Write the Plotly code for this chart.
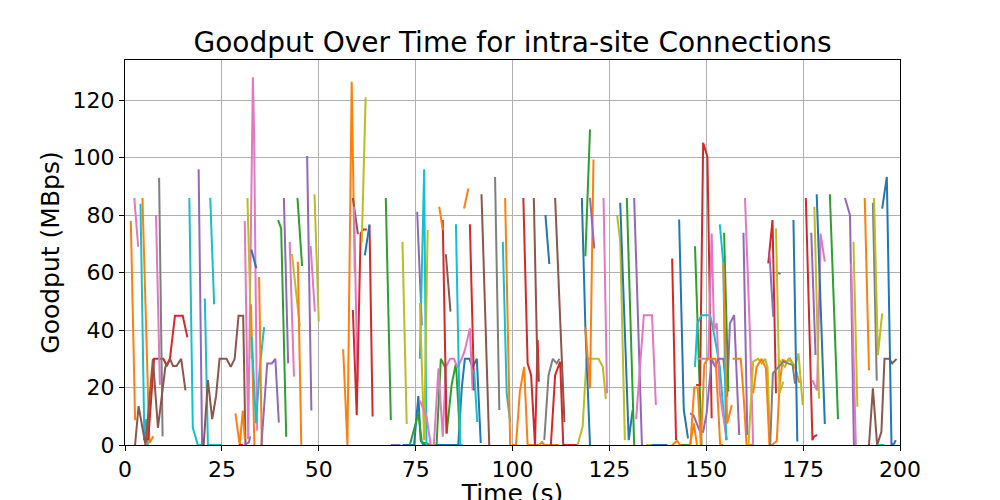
import plotly.graph_objects as go

# ---- data: one entry per connection (time in s, goodput in MBps) ----
conn_times = [
    [1.5, 2.6, 2.9],
    [2.4, 3.4],
    [4.0, 5.0, 5.5, 5.9],
    [4.5, 6.3, 7.3],
    [4.7, 6.0, 7.5, 9.9, 10.8, 11.6, 12.9, 14.9, 16.1],
    [8.0, 9.0],
    [8.8, 9.7],
    [2.6, 3.5, 4.5, 5.3, 7.2, 8.5, 10.4, 11.6, 12.4, 13.3, 14.5, 15.6],
    [16.6, 17.5, 18.8, 19.9],
    [19.0, 19.9],
    [20.6, 21.4, 25.0],
    [22.0, 23.0],
    [20.3, 21.4, 22.5, 23.5, 24.4, 26.2, 27.3, 28.3, 29.3, 30.5, 31.1],
    [28.5, 29.6, 30.4, 30.9],
    [29.4, 30.5],
    [30.9, 32.0, 32.3],
    [30.9, 31.8, 33.0, 33.3, 34.1],
    [31.6, 32.7],
    [32.6, 33.9],
    [32.5, 33.4],
    [32.7, 33.8, 34.8, 35.9],
    [34.6, 35.3],
    [35.2, 36.7, 37.9, 38.8, 39.7],
    [39.5, 40.3, 41.6],
    [41.0, 42.1],
    [42.5, 43.6],
    [43.1, 45.1],
    [44.5, 45.7],
    [44.6, 45.5],
    [47.0, 48.1],
    [47.9, 49.0],
    [48.9, 50.0],
    [56.3, 57.4, 58.5, 59.3],
    [58.8, 60.1],
    [59.1, 60.0],
    [58.8, 59.8, 60.8, 61.5, 62.4],
    [63.1, 63.9],
    [61.9, 63.1],
    [61.1, 62.1],
    [67.3, 68.6],
    [71.6, 72.7],
    [68.6, 71.1],
    [71.6, 74.6, 75.7, 76.3, 77.0, 86.0, 86.9, 87.7, 88.9, 89.7, 90.8, 91.8],
    [73.5, 75.7, 76.6, 79.0, 80.4, 81.5, 82.6, 83.0, 84.3, 85.4, 86.5],
    [75.4, 76.6],
    [76.1, 77.2, 77.8],
    [76.1, 77.2, 78.1],
    [76.1, 77.8, 78.9, 79.7, 80.9, 82.0, 82.8, 83.9, 84.9, 85.8, 86.9, 87.7, 89.0, 89.7],
    [82.0, 83.0],
    [81.1, 82.0],
    [82.8, 84.0],
    [85.4, 86.5, 87.2],
    [87.5, 88.6],
    [89.0, 90.1],
    [90.1, 90.9],
    [92.0, 94.0],
    [95.5, 96.6],
    [97.5, 98.5, 99.4],
    [98.1, 99.4],
    [100.0, 100.9, 101.9, 103.0, 103.9, 106.9, 107.6, 108.2, 112.0],
    [102.8, 103.9, 104.8, 105.8, 106.5, 106.8],
    [105.5, 106.5],
    [108.5, 109.5],
    [108.2, 109.3, 110.4, 111.4, 112.1],
    [111.0, 113.4],
    [109.9, 111.0, 112.3, 113.1, 116.8],
    [116.8, 118.1, 119.1, 122.2, 123.3, 124.1],
    [117.9, 118.8, 120.0],
    [118.8, 120.0, 120.9],
    [118.8, 120.0],
    [120.0, 121.1],
    [123.5, 124.4],
    [127.0, 127.8, 129.0],
    [127.8, 130.0, 131.0],
    [129.5, 131.4],
    [131.4, 133.4],
    [131.9, 133.9, 136.0, 137.0],
    [134.5, 135.8],
    [135.8, 140.0],
    [141.2, 142.5, 143.2, 145.8, 146.8, 147.6],
    [141.2, 142.2],
    [143.0, 144.2, 145.3],
    [143.5, 145.5],
    [147.1, 148.8],
    [147.4, 148.4, 149.2, 150.3, 151.4],
    [147.1, 147.7, 148.8, 151.0, 152.0, 153.5, 154.4, 155.3],
    [147.7, 150.5, 151.4, 152.0, 152.7, 153.5, 155.3],
    [145.8, 146.7, 148.4, 149.2, 150.1, 151.4, 152.3, 153.1, 154.4, 155.4, 156.1, 157.2, 158.5],
    [145.9, 146.9, 147.8, 148.6],
    [148.6, 149.5, 150.3, 151.2, 152.4, 153.6, 154.4],
    [154.6, 155.7],
    [153.5, 154.4, 155.1],
    [154.4, 155.4, 156.6],
    [156.8, 158.9, 159.6, 160.4, 162.0],
    [159.6, 160.6],
    [160.0, 161.3, 162.1],
    [160.9, 162.1, 163.4, 164.3, 165.2, 165.8, 166.5],
    [162.1, 163.0, 164.3, 165.4, 166.3, 166.9, 168.2, 168.9, 169.7, 170.8, 171.6, 172.9, 174.0],
    [166.0, 167.1, 168.0],
    [166.3, 167.3],
    [168.0, 169.2],
    [168.0, 168.9, 169.9],
    [168.6, 170.3, 171.2, 172.9, 173.8, 174.9],
    [166.5, 167.2, 169.9, 172.3, 172.9],
    [172.5, 173.5],
    [175.7, 177.4, 177.8, 178.6],
    [177.1, 178.2],
    [177.4, 178.6, 179.5, 180.6],
    [177.9, 179.1],
    [178.5, 180.6],
    [181.9, 184.0],
    [185.8, 187.1, 188.1],
    [187.4, 188.6],
    [188.0, 189.0],
    [190.9, 192.0],
    [193.0, 194.0],
    [193.3, 194.3, 195.4],
    [192.0, 193.0, 194.1, 195.2, 196.0, 197.2, 198.0, 199.1],
    [195.4, 196.6, 197.8, 198.5, 198.9],
    [194.0, 196.0],
]

conn_goodput = [
    [78, 9, 9],
    [86, 69],
    [84, 2, 9, 0],
    [86, 0.7, 3],
    [2, 2, 30, 30, 27.5, 30, 45, 45, 37.5],
    [80, 21],
    [93, 3],
    [0, 13.5, 6, 0, 30, 6, 27, 30, 27.5, 27.5, 30, 19],
    [86, 6, 0, 0],
    [96, 0],
    [51, 0, 0],
    [86, 49],
    [0, 22.6, 9, 17, 30, 30, 27.2, 30, 45, 45, 0],
    [11, 0, 12, 2],
    [0, 0],
    [0, 1, 3],
    [78, 2, 128, 110, 5],
    [86, 30],
    [68, 61.5],
    [49, 0],
    [37.7, 7.5, 27.2, 41],
    [58.5, 0],
    [0, 28.4, 28.4, 30, 7.8],
    [78.3, 75.4, 2.9],
    [86, 28.4],
    [70.7, 23.8],
    [66.4, 41.2],
    [86, 62.3],
    [63.8, 0],
    [100.6, 12],
    [69.2, 46.4],
    [87.3, 43],
    [33.3, 0, 126.4, 60],
    [86, 73.4],
    [83, 22],
    [47, 10.4, 73.6, 75, 75],
    [76.5, 9.9],
    [66, 76.8],
    [70.4, 121],
    [86, 8.7],
    [70.7, 7.3],
    [0, 0],
    [0, 0, 17, 1.7, 0, 0, 19.7, 30, 30, 27, 30, 0.7],
    [0, 11, 1, 0, 0, 30, 27, 4, 21, 28.4, 1.7],
    [81.2, 41.7],
    [30, 96, 0],
    [49.4, 1.7, 74.8],
    [15.4, 10, 0, 0, 26.7, 2.9, 27.2, 30, 30, 27, 30, 33, 40.6, 19],
    [78.3, 4],
    [83, 74.8],
    [66.4, 46.4],
    [76.8, 0, 0],
    [82.3, 89.3],
    [76.8, 19],
    [26, 8],
    [87.3, 0],
    [93.3, 12.2],
    [70.7, 18, 8],
    [86, 0],
    [0, 0, 18.6, 27.2, 0, 0, 1, 0, 0],
    [86, 28.4, 24.3, 0, 36.5, 22],
    [86, 22.6],
    [80, 63],
    [1.7, 24.3, 30, 28.4, 30],
    [86, 8],
    [0, 24.3, 29, 0, 0],
    [0, 6.4, 30, 30, 27.2, 16],
    [86, 41.2, 0],
    [41, 19.7, 99.4],
    [65.7, 109.8],
    [86, 68.4],
    [86, 18],
    [80, 70.7, 1.7],
    [84.3, 1.7, 12.2],
    [86, 0],
    [86, 0],
    [9, 45.2, 45.2, 13.9],
    [0, 0],
    [0, 0],
    [0, 1.5, 0, 0, 7.5, 0],
    [64.9, 1.7],
    [78.5, 12.2, 2.3],
    [0, 0],
    [69.2, 0],
    [20.9, 20.9, 105.2, 100.3, 9.3],
    [27.2, 42.3, 45.2, 45.2, 38.8, 27.2, 12.2, 1.7],
    [30, 30, 73.6, 40, 42.4, 18, 1.7],
    [11, 10.4, 4.6, 4.6, 11, 30, 27.2, 30, 30, 16.8, 42.3, 45.2, 3.5],
    [0, 20, 20, 0],
    [0, 28, 30, 30, 30, 0, 0],
    [73.9, 18.6],
    [76.8, 63.4, 1.7],
    [63.2, 7.5, 13.9],
    [30, 30, 18, 0, 0],
    [73.9, 3.5],
    [86, 37.7, 0],
    [0, 29, 30, 28.4, 30, 27.2, 0],
    [18, 27.2, 30, 26.7, 0, 0, 1.4, 20.3, 29.6, 29, 30, 27.2, 21.7],
    [63.2, 78.3, 18],
    [66.7, 44.6],
    [60.3, 59.5],
    [75.4, 18, 22],
    [30, 27.2, 30, 27.2, 31.9, 13.9],
    [0, 25, 29, 27.8, 21.4],
    [78.3, 1.2],
    [86, 1.7, 2.9, 3.5],
    [73.9, 31.3],
    [22.6, 19, 73.6, 63.8],
    [82.9, 16.2],
    [87.3, 7.3],
    [87.3, 9],
    [86, 80, 0],
    [63.2, 0],
    [70.7, 13.3],
    [86, 26],
    [84.3, 22.4],
    [86, 31.3, 45.8],
    [0, 19.7, 0, 4.6, 30, 30, 28.4, 30],
    [82.3, 93.3, 0, 0.5, 1.7],
    [0, 0],
]

conn_color = [
    "orange", "pink", "cyan", "orange", "red", "pink", "gray", "brown", "cyan", "purple",
    "cyan", "cyan", "brown", "orange", "red", "purple", "pink", "olive", "blue", "orange",
    "cyan", "orange", "purple", "green", "purple", "pink", "olive", "green", "orange", "purple",
    "pink", "olive", "orange", "brown", "pink", "red", "red", "blue", "olive", "green",
    "olive", "purple", "blue", "green", "purple", "cyan", "olive", "pink", "red", "orange",
    "brown", "cyan", "orange", "red", "cyan", "brown", "gray", "cyan", "orange", "orange",
    "red", "brown", "blue", "gray", "brown", "red", "olive", "blue", "orange", "green",
    "purple", "pink", "olive", "blue", "green", "purple", "pink", "olive", "blue", "orange",
    "red", "blue", "green", "green", "red", "cyan", "pink", "purple", "orange", "orange",
    "green", "cyan", "orange", "orange", "purple", "pink", "olive", "orange", "red", "purple",
    "gray", "olive", "olive", "gray", "blue", "red", "purple", "pink", "olive", "blue",
    "green", "purple", "pink", "olive", "orange", "gray", "olive", "brown", "blue", "cyan",
]

palette = {
    "blue": "#1f77b4", "orange": "#ff7f0e", "green": "#2ca02c", "red": "#d62728",
    "purple": "#9467bd", "brown": "#8c564b", "pink": "#e377c2", "gray": "#7f7f7f",
    "olive": "#bcbd22", "cyan": "#17becf",
}

x_ticks = [0, 25, 50, 75, 100, 125, 150, 175, 200]
y_ticks = [0, 20, 40, 60, 80, 100, 120]

font_family = "DejaVu Sans"

fig = go.Figure()
for t, v, c in zip(conn_times, conn_goodput, conn_color):
    fig.add_trace(go.Scatter(
        x=t, y=v, mode="lines",
        line=dict(color=palette[c], width=2),
        hoverinfo="x+y", showlegend=False,
    ))

axis_common = dict(
    showgrid=True, gridcolor="#b0b0b0", gridwidth=1,
    showline=True, linecolor="black", linewidth=1, mirror=True,
    ticks="outside", ticklen=5, tickwidth=1, tickcolor="black",
    zeroline=False, tickfont=dict(family=font_family, size=22, color="black"),
    automargin=False,
)

# the page adds an 8px body margin, so the margins are shifted to compensate
fig.update_layout(
    width=1000, height=500,
    margin=dict(l=117, r=108, t=52, b=63),
    plot_bgcolor="white", paper_bgcolor="white",
    showlegend=False,
    font=dict(family=font_family, color="black"),
    title=dict(
        text="Goodput Over Time for intra-site Connections",
        x=0.5, xref="paper", xanchor="center",
        y=1 - 34 / 500, yref="container", yanchor="middle",
        font=dict(family=font_family, size=28, color="black"),
    ),
    xaxis=dict(
        range=[0, 200], tickvals=x_ticks,
        title=dict(text="Time (s)", font=dict(family=font_family, size=25), standoff=6),
        **axis_common,
    ),
    yaxis=dict(
        range=[0, 134], tickvals=y_ticks,
        title=dict(text="Goodput (MBps)", font=dict(family=font_family, size=25), standoff=5),
        **axis_common,
    ),
)

fig.write_html("out.html")
